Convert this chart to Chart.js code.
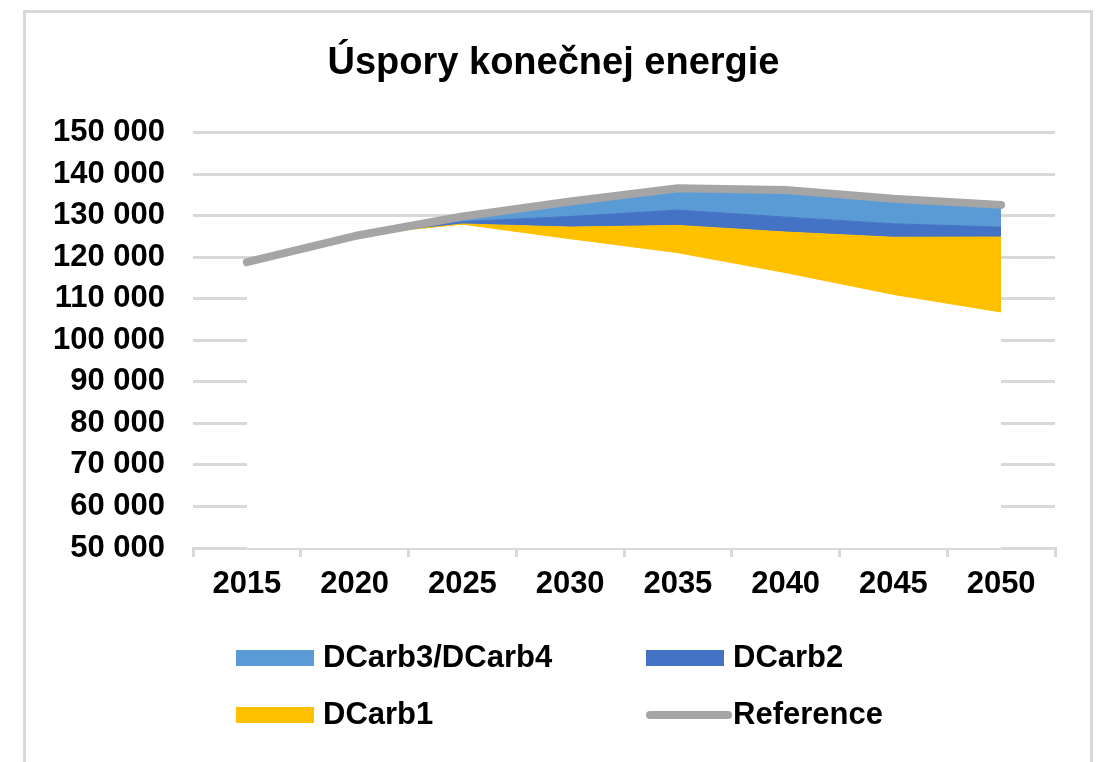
<!DOCTYPE html>
<html>
<head>
<meta charset="utf-8">
<script src="https://cdn.jsdelivr.net/npm/chart.js@4.4.1/dist/chart.umd.min.js"></script>
<style>
  html, body { margin: 0; padding: 0; background: #ffffff; overflow: hidden; }
  #wrap { position: relative; width: 1102px; height: 762px; }
  #frame { position: absolute; left: 23px; top: 10px; width: 1070px; height: 800px;
           border: 3px solid #d9d9d9; box-sizing: border-box; }
  canvas { position: absolute; left: 0; top: 0; }
</style>
</head>
<body>
<div id="wrap">
  <div id="frame"></div>
  <canvas id="c" width="1102" height="762"></canvas>
</div>
<script>
// ---- Data ----
const categories = ['2015', '2020', '2025', '2030', '2035', '2040', '2045', '2050'];
// hidden (white) base of the stacked areas
const baseValues = [118800, 125100, 127700, 124200, 120850, 116050, 110800, 106550];
const dcarb1Values = [0, 0, 300, 3050, 6800, 10000, 14000, 18300];
const dcarb2Values = [0, 0, 600, 2550, 3700, 3600, 3250, 2400];
const dcarb34Values = [0, 0, 1200, 3600, 5250, 6550, 6050, 5350];
const referenceValues = [118800, 125100, 129800, 133400, 136600, 136200, 134100, 132600];
const titleText = 'Úspory konečnej energie';

const FONT = '"Liberation Sans", Arial, sans-serif';
const COL = { base: '#ffffff', d1: '#FFC000', d2: '#4472C4', d34: '#5B9BD5', ref: '#A5A5A5', grid: '#d9d9d9' };

function fmt(v) {
  return String(v).replace(/\B(?=(\d{3})+(?!\d))/g, ' ');
}

function area(label, data, color, fill, legend) {
  return {
    label, data, fill, stack: 'areas', order: 1,
    backgroundColor: color, borderColor: color, borderWidth: 1,
    pointRadius: 0, pointHoverRadius: 0, tension: 0, showInLegend: legend
  };
}

const datasets = [
  area('base', baseValues, COL.base, 'start', false),
  area('DCarb1', dcarb1Values, COL.d1, '-1', true),
  area('DCarb2', dcarb2Values, COL.d2, '-1', true),
  area('DCarb3/DCarb4', dcarb34Values, COL.d34, '-1', true),
  {
    label: 'Reference', data: referenceValues, stack: 'ref', order: 0, fill: false,
    borderColor: COL.ref, backgroundColor: COL.ref, borderWidth: 8,
    borderCapStyle: 'round', borderJoinStyle: 'round',
    pointRadius: 0, pointHoverRadius: 0, tension: 0, showInLegend: true
  }
];

// legend arranged in a 2x2 grid like the original (Excel order)
const legendGrid = [
  { label: 'DCarb3/DCarb4', col: 0, row: 0 },
  { label: 'DCarb2', col: 1, row: 0 },
  { label: 'DCarb1', col: 0, row: 1 },
  { label: 'Reference', col: 1, row: 1 }
];
const legendLayout = { colX: [236, 646], rowY: [658, 715], swatchW: 78, swatchH: 16, textGap: 87 };

const gridLegend = {
  id: 'gridLegend',
  afterDraw(chart) {
    const ctx = chart.ctx;
    ctx.save();
    ctx.font = 'bold 31px ' + FONT;
    ctx.textBaseline = 'middle';
    ctx.textAlign = 'left';
    legendGrid.forEach(item => {
      const ds = chart.data.datasets.find(d => d.label === item.label);
      if (!ds) return;
      const x = legendLayout.colX[item.col];
      const y = legendLayout.rowY[item.row];
      if (ds.fill === false) {
        ctx.strokeStyle = ds.borderColor;
        ctx.lineWidth = 8;
        ctx.lineCap = 'round';
        ctx.beginPath();
        ctx.moveTo(x + 4, y);
        ctx.lineTo(x + legendLayout.swatchW + 4, y);
        ctx.stroke();
      } else {
        ctx.fillStyle = ds.backgroundColor;
        ctx.fillRect(x, y - legendLayout.swatchH / 2, legendLayout.swatchW, legendLayout.swatchH);
      }
      ctx.fillStyle = '#000000';
      ctx.fillText(ds.label, x + legendLayout.textGap, y);
    });
    ctx.restore();
  }
};

new Chart(document.getElementById('c'), {
  type: 'line',
  data: { labels: categories, datasets },
  plugins: [gridLegend],
  options: {
    responsive: false,
    devicePixelRatio: 1,
    animation: false,
    events: [],
    layout: { padding: { top: 15, left: 52, right: 47, bottom: 0 } },
    plugins: {
      legend: { display: false },
      tooltip: { enabled: false },
      title: {
        display: true, text: titleText, color: '#000000',
        font: { family: FONT, size: 38, weight: 'bold' },
        padding: { top: 26, bottom: 46 }
      },
      filler: { propagate: false }
    },
    scales: {
      x: {
        offset: true,
        z: 1,
        grid: { offset: true, drawOnChartArea: false, drawTicks: true, tickLength: 9, color: COL.grid, lineWidth: 3 },
        border: { display: true, color: COL.grid, width: 3 },
        ticks: { color: '#000000', font: { family: FONT, size: 31, weight: 'bold' }, padding: 9, maxRotation: 0, autoSkip: false },
        afterFit(axis) { axis.height = 214; }
      },
      y: {
        stacked: true,
        min: 50000, max: 150000,
        grid: { drawTicks: false, color: COL.grid, lineWidth: 3 },
        border: { display: false },
        ticks: {
          stepSize: 10000, padding: 28, color: '#000000',
          font: { family: FONT, size: 31, weight: 'bold' },
          callback: v => fmt(v)
        },
        afterFit(axis) { axis.width = 141; }
      }
    }
  }
});
</script>
</body>
</html>
